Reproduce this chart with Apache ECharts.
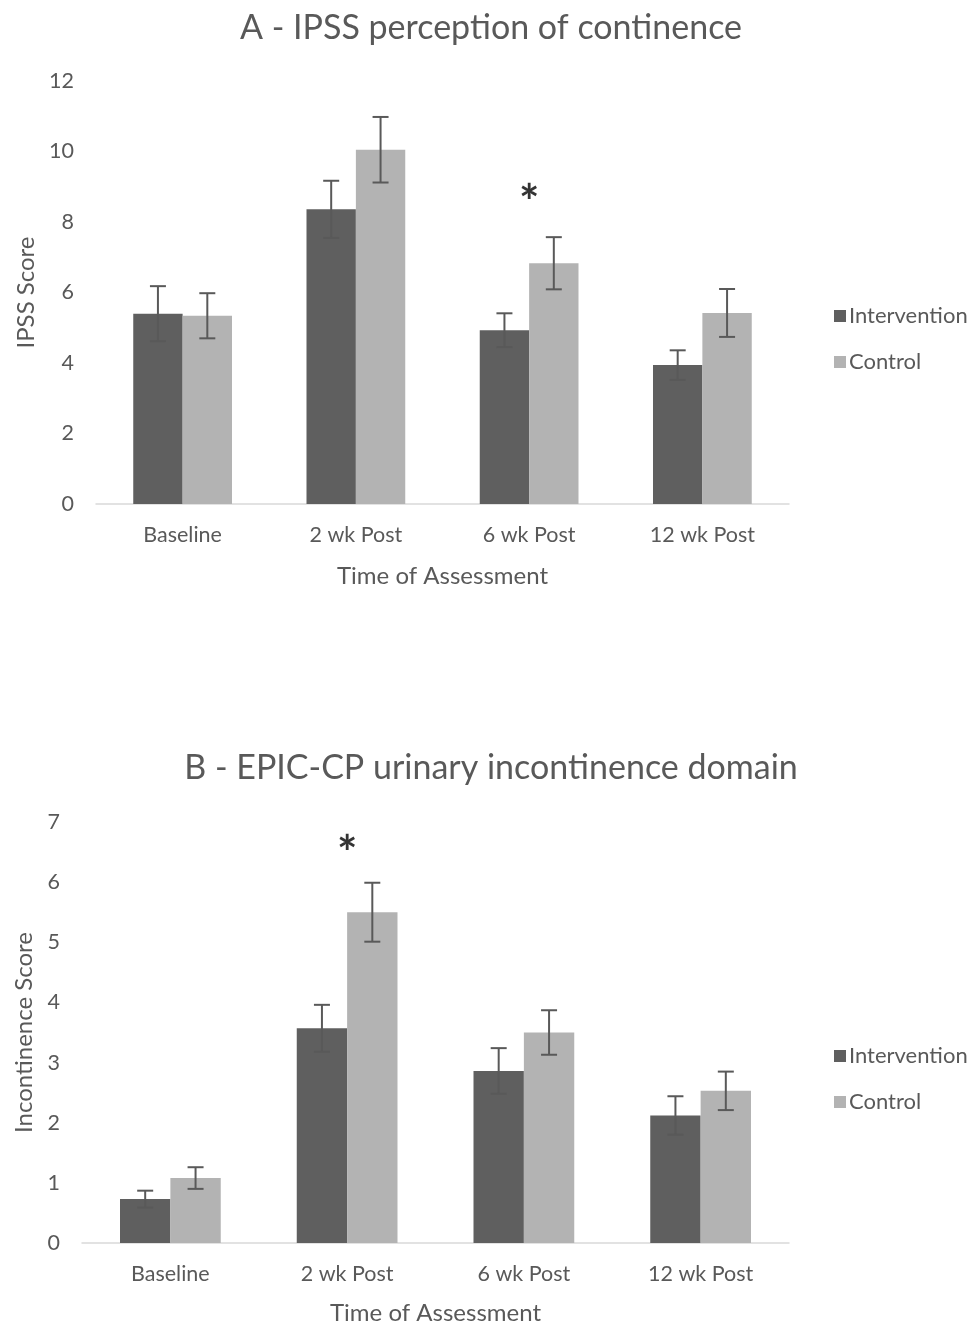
<!DOCTYPE html>
<html>
<head>
<meta charset="utf-8">
<script src="https://cdn.jsdelivr.net/npm/echarts@6/dist/echarts.min.js"></script>
<style>
  html, body { margin: 0; padding: 0; background: #fff; }
  #chart { width: 980px; height: 1323px; }
</style>
</head>
<body>
<div id="chart"></div>
<script>
var categories = ['Baseline', '2 wk Post', '6 wk Post', '12 wk Post'];

// A - IPSS
var ipssIntervention = [5.40, 8.36, 4.93, 3.94];
var ipssInterventionErr = [0.78, 0.81, 0.48, 0.42];
var ipssControl = [5.34, 10.05, 6.83, 5.42];
var ipssControlErr = [0.64, 0.93, 0.74, 0.68];
var ipssStar = [['6 wk Post', 8.52]];

// B - EPIC-CP
var epicIntervention = [0.73, 3.57, 2.86, 2.12];
var epicInterventionErr = [0.14, 0.39, 0.38, 0.32];
var epicControl = [1.08, 5.50, 3.50, 2.53];
var epicControlErr = [0.18, 0.49, 0.37, 0.32];
var epicStar = [['2 wk Post', 6.46]];

var FONT = 'Lato';
var TEXT = '#595959';
var GAP = 0.43;
var darkBar = '#5f5f5f';
var lightBar = '#b3b3b3';

var chart = echarts.init(document.getElementById('chart'));

function errData(vals, errs) {
  return vals.map(function (v, i) { return [i, v - errs[i], v + errs[i]]; });
}

function errorItem(side) {
  return function (params, api) {
    var band = api.size([1, 0])[0];
    var barW = band * (1 - GAP) / 2;
    var x = api.coord([api.value(0), 0])[0] + side * barW / 2;
    var lo = api.coord([api.value(0), api.value(1)])[1];
    var hi = api.coord([api.value(0), api.value(2)])[1];
    var c = 8;
    var st = { stroke: '#595959', lineWidth: 2 };
    return {
      type: 'group',
      children: [
        { type: 'line', shape: { x1: x, y1: hi, x2: x, y2: lo }, style: st },
        { type: 'line', shape: { x1: x - c, y1: hi, x2: x + c, y2: hi }, style: st },
        { type: 'line', shape: { x1: x - c, y1: lo, x2: x + c, y2: lo }, style: st }
      ]
    };
  };
}

function errSeries(idx, vals, errs, side) {
  return {
    type: 'custom',
    xAxisIndex: idx,
    yAxisIndex: idx,
    z: 5,
    silent: true,
    encode: { x: 0, y: [1, 2] },
    data: errData(vals, errs),
    renderItem: errorItem(side)
  };
}

function xAx(idx, gap) {
  return {
    type: 'category',
    gridIndex: idx,
    data: categories,
    axisLine: { lineStyle: { color: '#d9d9d9', width: 1.5 } },
    axisTick: { show: false },
    axisLabel: { color: TEXT, fontSize: 21.5, fontFamily: FONT, margin: 20 },
    name: 'Time of Assessment',
    nameLocation: 'middle',
    nameGap: gap,
    nameTextStyle: { color: TEXT, fontSize: 24, fontFamily: FONT }
  };
}

function yAx(idx, max, interval, name, gap) {
  return {
    type: 'value',
    gridIndex: idx,
    min: 0,
    max: max,
    interval: interval,
    axisLine: { show: false },
    axisTick: { show: false },
    splitLine: { show: false },
    axisLabel: { color: TEXT, fontSize: 21.5, fontFamily: FONT, margin: 22 },
    name: name,
    nameLocation: 'middle',
    nameGap: gap,
    nameTextStyle: { color: TEXT, fontSize: 24, fontFamily: FONT }
  };
}

function legend(top) {
  return {
    orient: 'vertical',
    left: 829,
    top: top,
    itemWidth: 12,
    itemHeight: 12,
    itemGap: 24,
    icon: 'rect',
    data: ['Intervention', 'Control'],
    textStyle: { color: TEXT, fontSize: 22, fontFamily: FONT, padding: [0, 0, 0, -2] }
  };
}

function star(idx, data) {
  return {
    type: 'scatter',
    xAxisIndex: idx,
    yAxisIndex: idx,
    symbolSize: 0,
    silent: true,
    data: data,
    label: {
      show: true,
      position: 'inside',
      formatter: '*',
      color: '#000',
      fontSize: 48,
      fontWeight: 'bold',
      fontFamily: FONT
    }
  };
}

var option = {
  animation: false,
  backgroundColor: '#fff',
  title: [
    { text: 'A - IPSS perception of continence', left: 486, top: 6, textAlign: 'center',
      textStyle: { color: TEXT, fontSize: 34, fontWeight: 'normal', fontFamily: FONT } },
    { text: 'B - EPIC-CP urinary incontinence domain', left: 486, top: 746, textAlign: 'center',
      textStyle: { color: TEXT, fontSize: 34, fontWeight: 'normal', fontFamily: FONT } }
  ],
  legend: [legend(300), legend(1040)],
  grid: [
    { left: 96, right: 191, top: 81, bottom: 819, outerBoundsMode: 'none' },
    { left: 82, right: 191, top: 822, bottom: 80, outerBoundsMode: 'none' }
  ],
  xAxis: [xAx(0, 60), xAx(1, 58)],
  yAxis: [
    yAx(0, 12, 2, 'IPSS Score', 56),
    yAx(1, 7, 1, 'Incontinence Score', 45)
  ],
  series: [
    { name: 'Intervention', type: 'bar', xAxisIndex: 0, yAxisIndex: 0, data: ipssIntervention,
      barGap: '0%', barCategoryGap: '43%', itemStyle: { color: darkBar } },
    { name: 'Control', type: 'bar', xAxisIndex: 0, yAxisIndex: 0, data: ipssControl,
      barGap: '0%', barCategoryGap: '43%', itemStyle: { color: lightBar } },
    { name: 'Intervention', type: 'bar', xAxisIndex: 1, yAxisIndex: 1, data: epicIntervention,
      barGap: '0%', barCategoryGap: '43%', itemStyle: { color: darkBar } },
    { name: 'Control', type: 'bar', xAxisIndex: 1, yAxisIndex: 1, data: epicControl,
      barGap: '0%', barCategoryGap: '43%', itemStyle: { color: lightBar } },
    errSeries(0, ipssIntervention, ipssInterventionErr, -1),
    errSeries(0, ipssControl, ipssControlErr, 1),
    errSeries(1, epicIntervention, epicInterventionErr, -1),
    errSeries(1, epicControl, epicControlErr, 1),
    star(0, ipssStar),
    star(1, epicStar)
  ]
};

chart.setOption(option);
</script>
</body>
</html>
